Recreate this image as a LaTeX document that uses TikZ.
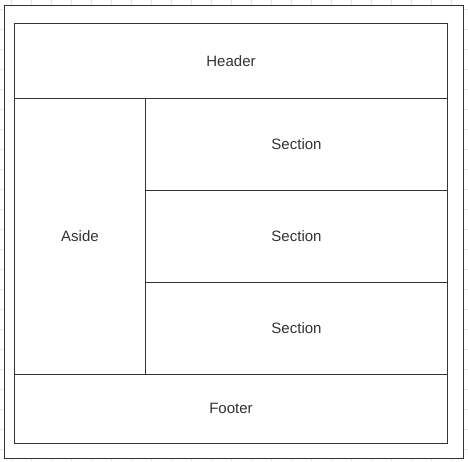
\documentclass[tikz,border=0pt]{standalone}
\usepackage{fontspec}
\setmainfont{Liberation Sans}
\usetikzlibrary{positioning}
\definecolor{linegray}{HTML}{333333}
\definecolor{gridgray}{HTML}{E6E6E6}

\begin{document}
\begin{tikzpicture}[x=1pt,y=-1pt,
	box/.style={draw=linegray,line width=1pt,outer sep=0pt,inner sep=0pt,
		anchor=north west,text=linegray,font=\fontsize{15}{18}\selectfont},
	gridline/.style={draw=gridgray,line width=0.8pt}]
		
		\useasboundingbox (0,0) rectangle (468,461);
		\fill[white] (0,0) rectangle (468,461);
		\foreach \gx in {11.5,31.5,...,471.5}
			\draw[gridline] (\gx,0) -- (\gx,461);
		\foreach \gy in {9.5,29.5,...,469.5}
			\draw[gridline] (0,\gy) -- (468,\gy);
		
		\node[box,fill=white,minimum width=459pt,minimum height=453pt] (page) at (4.5,5.5) {};
		
		\node[box,minimum width=433pt,minimum height=75pt] (header) at (14.5,23.5) {Header};
		\node[box,minimum width=131pt,minimum height=276pt] (aside) at (header.south west) {Aside};
		\node[box,minimum width=302pt,minimum height=92pt] (sec1) at (aside.north east) {Section};
		\node[box,minimum width=302pt,minimum height=92pt] (sec2) at (sec1.south west) {Section};
		\node[box,minimum width=302pt,minimum height=92pt] (sec3) at (sec2.south west) {Section};
		\node[box,minimum width=433pt,minimum height=68.5pt] (footer) at (aside.south west) {Footer};
		\end{tikzpicture}
\end{document}
